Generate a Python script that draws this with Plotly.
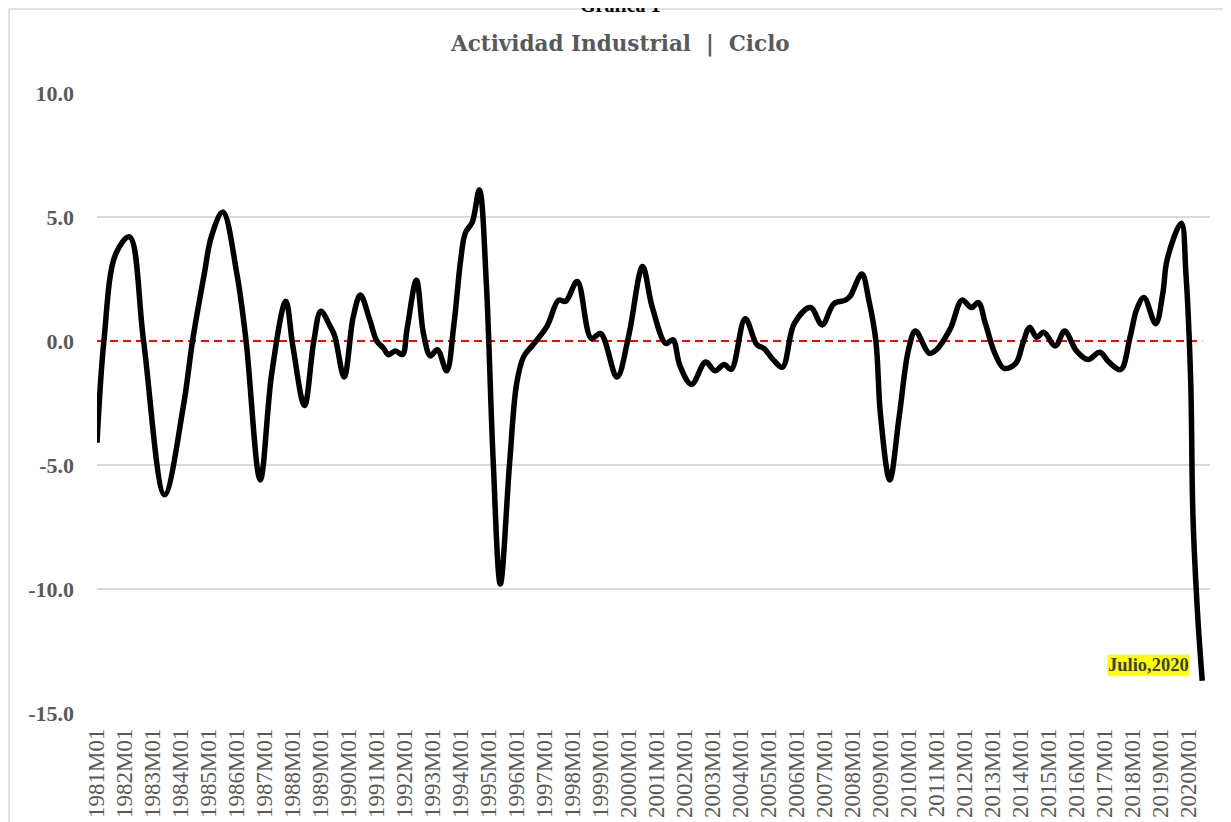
import plotly.graph_objects as go

# Ciclo de la actividad industrial
fechas = [
    "1981-01", "1981-04", "1981-09", "1982-03", "1982-09", "1983-06", "1984-02", "1984-06",
    "1984-11", "1985-02", "1985-07", "1986-01", "1986-05", "1986-11", "1987-04", "1987-10",
    "1988-01", "1988-06", "1988-10", "1989-01", "1989-05", "1989-07", "1989-11", "1990-03",
    "1990-06", "1990-10", "1991-01", "1991-04", "1991-06", "1991-09", "1991-12", "1992-02",
    "1992-06", "1992-09", "1992-12", "1993-03", "1993-07", "1993-10", "1994-01", "1994-03",
    "1994-06", "1994-09", "1994-12", "1995-01", "1995-03", "1995-06", "1995-10", "1996-01",
    "1996-04", "1996-08", "1997-02", "1997-07", "1997-10", "1998-03", "1998-09", "1999-01",
    "1999-08", "2000-01", "2000-07", "2000-11", "2001-05", "2001-08", "2001-11", "2002-04",
    "2002-10", "2003-02", "2003-06", "2003-09", "2004-03", "2004-08", "2004-11", "2005-03",
    "2005-07", "2005-12", "2006-07", "2006-12", "2007-05", "2007-10", "2007-12", "2008-05",
    "2008-08", "2008-11", "2009-01", "2009-05", "2009-09", "2010-01", "2010-04", "2010-10",
    "2011-01", "2011-07", "2011-12", "2012-04", "2012-07", "2012-10", "2013-02", "2013-06",
    "2013-11", "2014-02", "2014-05", "2014-08", "2014-11", "2015-04", "2015-08", "2016-01",
    "2016-06", "2016-11", "2017-03", "2017-08", "2017-12", "2018-03", "2018-06", "2018-11",
    "2019-02", "2019-04", "2019-10", "2019-12", "2020-02", "2020-03", "2020-05", "2020-07",
]
ciclo = [
    -4.1, 0.0, 3.5, 4.2, 0.0, -6.2, -2.65, 0.0,
    2.7, 4.2, 5.2, 2.7, 0.0, -5.6, -1.3, 1.6,
    -0.2, -2.6, 0.0, 1.2, 0.6, 0.2, -1.45, 1.0,
    1.85, 0.85, 0.0, -0.3, -0.55, -0.4, -0.55, 0.5,
    2.45, 0.3, -0.6, -0.35, -1.2, 0.6, 3.3, 4.35,
    4.8, 6.1, 2.3, 0.0, -4.9, -9.8, -4.9, -1.7,
    -0.63, -0.15, 0.6, 1.65, 1.6, 2.4, 0.1, 0.3,
    -1.45, 0.2, 3.0, 1.4, -0.1, 0.05, -1.0, -1.75,
    -0.85, -1.2, -0.95, -1.15, 0.9, -0.15, -0.3, -0.75,
    -1.05, 0.7, 1.35, 0.65, 1.5, 1.65, 1.8, 2.7,
    1.65, 0.0, -3.0, -5.6, -3.05, -0.35, 0.4, -0.5,
    -0.35, 0.5, 1.65, 1.35, 1.55, 0.7, -0.5, -1.1,
    -0.9, -0.1, 0.55, 0.15, 0.35, -0.2, 0.4, -0.4,
    -0.75, -0.45, -0.85, -1.15, 0.15, 1.3, 1.75, 0.7,
    1.9, 3.3, 4.75, 2.7, -1.6, -7.0, -11.0, -13.7,
]

anios = list(range(1981, 2021))
x_tickvals = [f"{a}-01-01" for a in anios]
x_ticktext = [f"{a}M01" for a in anios]
y_tickvals = [-15, -10, -5, 0, 5, 10]
y_ticktext = ["<b>-15.0</b>", "<b>-10.0</b>", "<b>-5.0</b>", "<b>0.0</b>", "<b>5.0</b>", "<b>10.0</b>"]

gris = "#595959"
serif = "Liberation Serif"

fig = go.Figure()

# linea de cero roja punteada (referencia en 0)
fig.add_trace(go.Scatter(
    x=[fechas[0], fechas[-1]], y=[0, 0], mode="lines",
    line=dict(color="#ff0000", width=2, dash="8px,5px"),
    showlegend=False, hoverinfo="skip",
))
fig.add_trace(go.Scatter(
    x=fechas, y=ciclo, mode="lines",
    line=dict(color="black", width=5.5, shape="spline", smoothing=1.0),
    showlegend=False, hoverinfo="skip",
))

# etiqueta del ultimo dato
fig.add_annotation(
    x=fechas[-1], y=ciclo[-1], text="<b>Julio,2020</b>",
    showarrow=False, xanchor="right", yanchor="middle", xshift=-12, yshift=16,
    bgcolor="#ffff00", borderpad=0,
    font=dict(family=serif, size=18.5, color="#404040"),
)

# titulo
fig.add_annotation(
    text="<b>Actividad Industrial  |  Ciclo</b>", xref="paper", yref="paper",
    x=0.47, y=1.0, yshift=49, showarrow=False, xanchor="center", yanchor="middle",
    font=dict(family="DejaVu Serif", size=21.5, color=gris),
)
# titulo de la grafica, cortado en el borde superior como en el original
fig.add_annotation(
    text="<b>Gráfica 1</b>", xref="paper", yref="paper",
    x=0.47, y=1.0, yshift=88, showarrow=False, xanchor="center", yanchor="middle",
    font=dict(family=serif, size=20, color="black"),
)

# marco del area de la grafica
fig.add_shape(
    type="rect", xref="paper", yref="paper",
    x0=-0.079, x1=1.03, y0=-0.19, y1=1.1355,
    line=dict(color="#d9d9d9", width=1.5), fillcolor="rgba(0,0,0,0)", layer="below",
)

fig.update_xaxes(
    type="date", range=["1981-01-01", "2020-10-10"],
    tickvals=x_tickvals, ticktext=x_ticktext, tickangle=-90,
    tickfont=dict(family=serif, size=23, color=gris),
    showgrid=False, zeroline=False, showline=False, ticks="",
    ticklabelstandoff=10, automargin=False,
)
fig.update_yaxes(
    range=[-15, 10], tickvals=y_tickvals, ticktext=y_ticktext,
    tickfont=dict(family=serif, size=22, color=gris),
    showgrid=True, gridcolor="#d9d9d9", gridwidth=1.5,
    zeroline=True, zerolinecolor="white", zerolinewidth=2,
    showline=False, ticks="", ticklabelstandoff=22, automargin=False,
)
# la pagina deja 8 px de margen, por eso la figura es algo menor
fig.update_layout(
    width=1223, height=814,
    margin=dict(l=89, r=21, t=85, b=109),
    paper_bgcolor="white", plot_bgcolor="white",
)

fig.write_html("out.html")
